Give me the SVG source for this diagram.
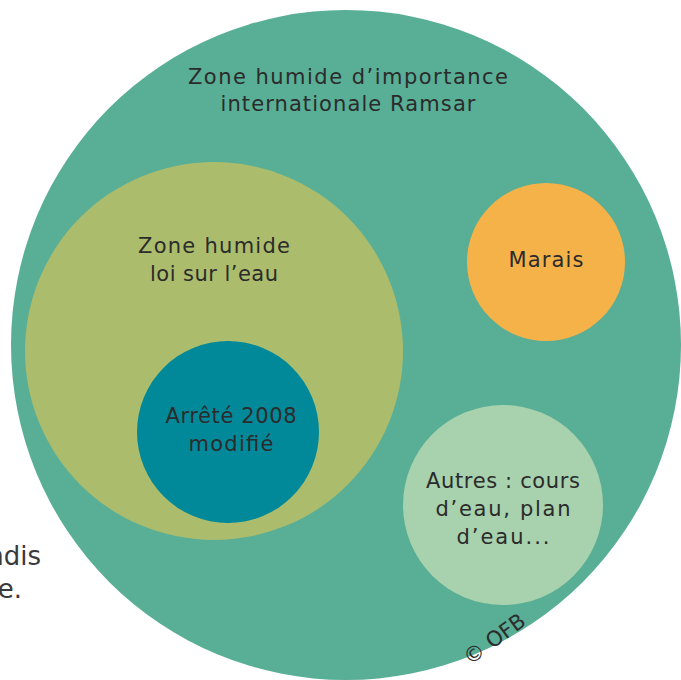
<svg xmlns="http://www.w3.org/2000/svg" width="681" height="680" viewBox="0 0 681 680">
<style>
.t{font-family:"DejaVu Sans","Liberation Sans",sans-serif;font-size:21px;fill:#2b2b2b;text-anchor:middle}
.side{font-family:"DejaVu Sans","Liberation Sans",sans-serif;font-size:26px;fill:#3a3a3a;text-anchor:end}
</style>
<rect width="681" height="680" fill="#ffffff"/>
<g id="side-text">
<text class="side" x="41" y="565">ndis</text>
<text class="side" x="22" y="598">e.</text>
</g>
<g id="ramsar">
<circle cx="346" cy="345" r="335" fill="#59ae96"/>
<text class="t" x="348" y="84" textLength="320" lengthAdjust="spacing">Zone humide d’importance</text>
<text class="t" x="348" y="111" textLength="255" lengthAdjust="spacing">internationale Ramsar</text>
<text class="t" x="495" y="646" font-size="16" transform="rotate(-36 495 640)">© OFB</text>
</g>
<g id="zone-humide">
<circle cx="214" cy="351" r="189" fill="#abbd6c"/>
<text class="t" x="214" y="253" textLength="152" lengthAdjust="spacing">Zone humide</text>
<text class="t" x="214" y="281" textLength="128" lengthAdjust="spacing">loi sur l’eau</text>
</g>
<g id="arrete">
<circle cx="228" cy="432" r="91" fill="#01899a"/>
<text class="t" x="231" y="423" textLength="131" lengthAdjust="spacing">Arrêté 2008</text>
<text class="t" x="231" y="451" textLength="85" lengthAdjust="spacing">modifié</text>
</g>
<g id="marais">
<circle cx="546" cy="262" r="79" fill="#f4b248"/>
<text class="t" x="546" y="267" textLength="75" lengthAdjust="spacing">Marais</text>
</g>
<g id="autres">
<circle cx="503" cy="505" r="100" fill="#a8d1ad"/>
<text class="t" x="503" y="488" textLength="154" lengthAdjust="spacing">Autres : cours</text>
<text class="t" x="503" y="516" textLength="135" lengthAdjust="spacing">d’eau, plan</text>
<text class="t" x="503" y="544" textLength="93" lengthAdjust="spacing">d’eau...</text>
</g>
<g id="connectors"></g>
</svg>
